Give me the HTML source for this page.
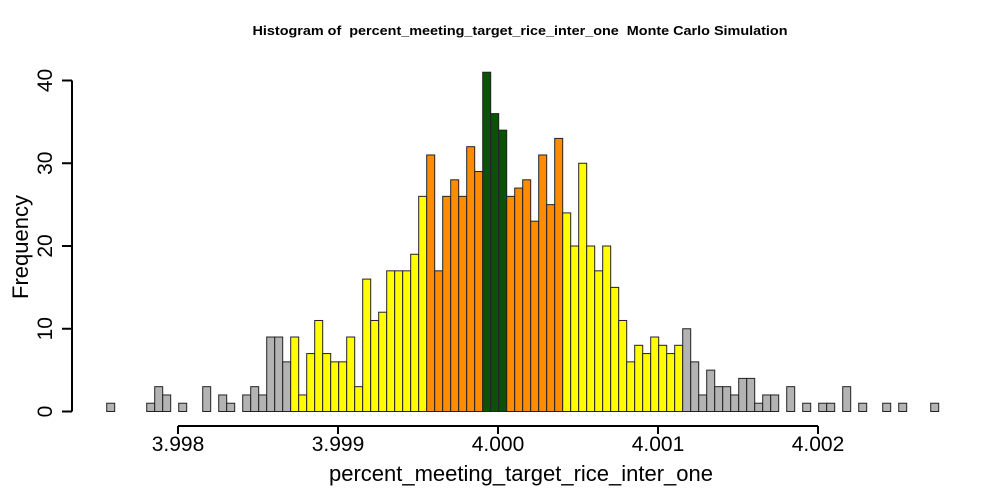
<!DOCTYPE html>
<html><head><meta charset="utf-8"><style>
html,body{margin:0;padding:0;background:#fff;}
svg{display:block;font-family:"Liberation Sans",Arial,sans-serif;}
</style></head><body>
<svg id="chart" width="1000" height="500" viewBox="0 0 1000 500">
<text x="520" y="35" text-anchor="middle" font-size="12.5" font-weight="bold" textLength="535" lengthAdjust="spacingAndGlyphs" xml:space="preserve">Histogram of  percent_meeting_target_rice_inter_one  Monte Carlo Simulation</text>
<text transform="translate(28,247) rotate(-90)" text-anchor="middle" font-size="22">Frequency</text>
<text x="521" y="481" text-anchor="middle" font-size="22">percent_meeting_target_rice_inter_one</text>
<g id="bars"></g>
<g id="xaxis"></g>
<g id="yaxis"></g>
</svg>
<script>
const counts = [1,0,0,0,0,1,3,2,0,1,0,0,3,0,2,1,0,2,3,2,9,9,6,9,2,7,11,7,6,6,9,3,16,11,12,17,17,17,19,26,31,17,26,28,26,32,29,41,36,34,26,27,28,23,31,25,33,24,20,30,20,17,20,15,11,6,8,7,9,8,7,8,10,6,2,5,3,3,2,4,4,1,2,2,0,3,0,1,0,1,1,0,3,0,1,0,0,1,0,1,0,0,0,1];
const binStart = 3.9975544;
const binWidth = 0.00005;
const xTicks = [3.998, 3.999, 4.000, 4.001, 4.002];
const xTickLabels = ["3.998","3.999","4.000","4.001","4.002"];
const yTicks = [0, 10, 20, 30, 40];
const colorClass = ["gray","yellow","orange","green"];
// class per bin: 0 gray,1 yellow,2 orange,3 green
const binClass = [0,0,0,0,0,0,0,0,0,0,0,0,0,0,0,0,0,0,0,0,0,0,0,1,1,1,1,1,1,1,1,1,1,1,1,1,1,1,1,1,2,2,2,2,2,2,2,3,3,3,2,2,2,2,2,2,2,1,1,1,1,1,1,1,1,1,1,1,1,1,1,1,0,0,0,0,0,0,0,0,0,0,0,0,0,0,0,0,0,0,0,0,0,0,0,0,0,0,0,0,0,0,0,0];

const fills = {gray:"#b3b3b3", yellow:"#ffff00", orange:"#ff8c00", green:"#0b5108"};
const xs = v => 498 + (v - 4.000) * 160000;
const ys = v => 411.5 - v * 8.275;
const NS = "http://www.w3.org/2000/svg";
const bars = document.getElementById('bars');
counts.forEach((c, i) => {
  const x0 = xs(binStart + i * binWidth), x1 = xs(binStart + (i + 1) * binWidth);
  const r = document.createElementNS(NS, 'rect');
  r.setAttribute('x', x0); r.setAttribute('y', ys(c));
  r.setAttribute('width', x1 - x0); r.setAttribute('height', Math.max(0, ys(0) - ys(c)));
  r.setAttribute('fill', fills[colorClass[binClass[i]]]);
  r.setAttribute('stroke', '#222'); r.setAttribute('stroke-width', '1');
  
  
  bars.appendChild(r);
});
const xa = document.getElementById('xaxis');
const axY = 426;
let l = document.createElementNS(NS, 'line');
l.setAttribute('x1', xs(xTicks[0])); l.setAttribute('x2', xs(xTicks[xTicks.length-1]));
l.setAttribute('y1', axY); l.setAttribute('y2', axY);
l.setAttribute('stroke', '#000'); l.setAttribute('stroke-width', '2');


xa.appendChild(l);
xTicks.forEach((t, i) => {
  const tk = document.createElementNS(NS, 'line');
  tk.setAttribute('x1', xs(t)); tk.setAttribute('x2', xs(t));
  tk.setAttribute('y1', axY); tk.setAttribute('y2', axY + 8);
  tk.setAttribute('stroke', '#000'); tk.setAttribute('stroke-width', '2');
  
  
  xa.appendChild(tk);
  const tx = document.createElementNS(NS, 'text');
  tx.setAttribute('x', xs(t)); tx.setAttribute('y', 451);
  tx.setAttribute('text-anchor', 'middle'); tx.setAttribute('font-size', '21');
  tx.textContent = xTickLabels[i];
  
  
  xa.appendChild(tx);
});
const ya = document.getElementById('yaxis');
l = document.createElementNS(NS, 'line');
l.setAttribute('x1', 72); l.setAttribute('x2', 72);
l.setAttribute('y1', ys(yTicks[0])); l.setAttribute('y2', ys(yTicks[yTicks.length-1]));
l.setAttribute('stroke', '#000'); l.setAttribute('stroke-width', '2');


ya.appendChild(l);
yTicks.forEach(t => {
  const tk = document.createElementNS(NS, 'line');
  tk.setAttribute('x1', 62); tk.setAttribute('x2', 72);
  tk.setAttribute('y1', ys(t)); tk.setAttribute('y2', ys(t));
  tk.setAttribute('stroke', '#000'); tk.setAttribute('stroke-width', '2');
  
  
  ya.appendChild(tk);
  const tx = document.createElementNS(NS, 'text');
  tx.setAttribute('transform', 'translate(52,' + ys(t) + ') rotate(-90)');
  tx.setAttribute('text-anchor', 'middle'); tx.setAttribute('font-size', '21');
  tx.textContent = String(t);
  
  
  ya.appendChild(tx);
});
</script>
</body></html>
